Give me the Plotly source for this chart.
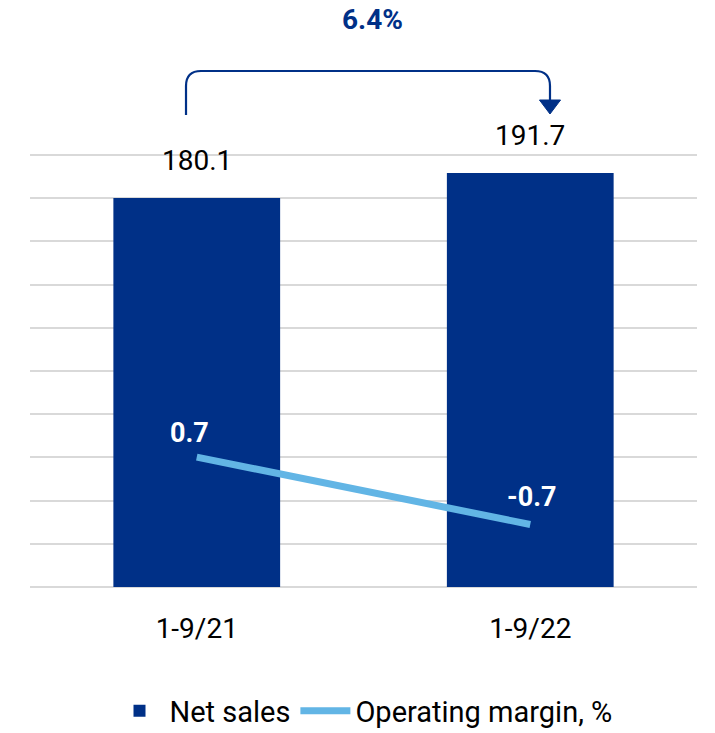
import plotly.graph_objects as go

categories = ["1-9/21", "1-9/22"]
net_sales = [180.1, 191.7]
op_margin = [0.7, -0.7]
growth_label = "6.4%"

BAR = "#003087"
LINE = "#62b5e5"
FONT = "Roboto"

fig = go.Figure()
fig.add_trace(go.Bar(
    x=categories, y=net_sales, name="Net sales",
    marker=dict(color=BAR, line=dict(width=0)),
    width=0.5,
))
fig.add_trace(go.Scatter(
    x=categories, y=op_margin, name="Operating margin, %",
    mode="lines", line=dict(color=LINE, width=7),
    yaxis="y2",
))

annotations = []
for c, v in zip(categories, net_sales):
    annotations.append(dict(
        x=c, y=v, xref="x", yref="y", text=f"{v:.1f}", showarrow=False,
        yshift=38, font=dict(family=FONT, size=28, color="#000000"),
    ))
shifts = [(-7, 24), (1, 27)]
for (c, v), (dx, dy) in zip(zip(categories, op_margin), shifts):
    annotations.append(dict(
        x=c, y=v, xref="x", yref="y2", text=f"<b>{v:.1f}</b>", showarrow=False,
        xshift=dx, yshift=dy, font=dict(family=FONT, size=27, color="#ffffff"),
    ))
annotations.append(dict(
    x=0.513, y=1.31, xref="paper", yref="paper", text=f"<b>{growth_label}</b>",
    showarrow=False, font=dict(family=FONT, size=28, color=BAR),
    yanchor="middle",
))

# bracket arrow (paper coords)
xl, xr = 0.2339, 0.7796
ytop, ybot, yhead = 1.1917, 1.090, 1.1247
rx, ry = 0.0225, 0.0346
path = (f"M{xl},{ybot} L{xl},{ytop-ry} Q{xl},{ytop} {xl+rx},{ytop} "
        f"L{xr-rx},{ytop} Q{xr},{ytop} {xr},{ytop-ry} L{xr},{yhead}")
shapes = [
    dict(type="path", xref="paper", yref="paper", path=path,
         line=dict(color=BAR, width=2.2)),
    dict(type="path", xref="paper", yref="paper",
         path=f"M{xr-0.0158},{yhead} L{xr+0.0158},{yhead} L{xr},{1.0924} Z",
         fillcolor=BAR, line=dict(color=BAR, width=1)),
]

fig.update_layout(
    width=715, height=733,
    margin=dict(l=30, r=18, t=154, b=146, autoexpand=False),
    paper_bgcolor="#ffffff", plot_bgcolor="#ffffff",
    font=dict(family=FONT, size=27, color="#000000"),
    bargap=0.5,
    xaxis=dict(type="category", showgrid=False, showline=False, zeroline=False,
               ticks="", ticklabelstandoff=22, automargin=False,
               tickfont=dict(family=FONT, size=28, color="#000000")),
    yaxis=dict(range=[0, 200.5], dtick=20, showticklabels=False,
               gridcolor="#d9d9d9", gridwidth=2, zeroline=True,
               zerolinecolor="#d9d9d9", zerolinewidth=2, showline=False,
               automargin=False),
    yaxis2=dict(range=[-2, 7], overlaying="y", side="right", showgrid=False,
                showticklabels=False, zeroline=False, showline=False,
                automargin=False),
    legend=dict(orientation="h", x=0.5, xanchor="center", y=-0.345,
                yanchor="bottom", font=dict(family=FONT, size=29, color="#000000"),
                itemwidth=50, traceorder="normal"),
    annotations=annotations,
    shapes=shapes,
    showlegend=True,
)

fig.write_html("out.html")
